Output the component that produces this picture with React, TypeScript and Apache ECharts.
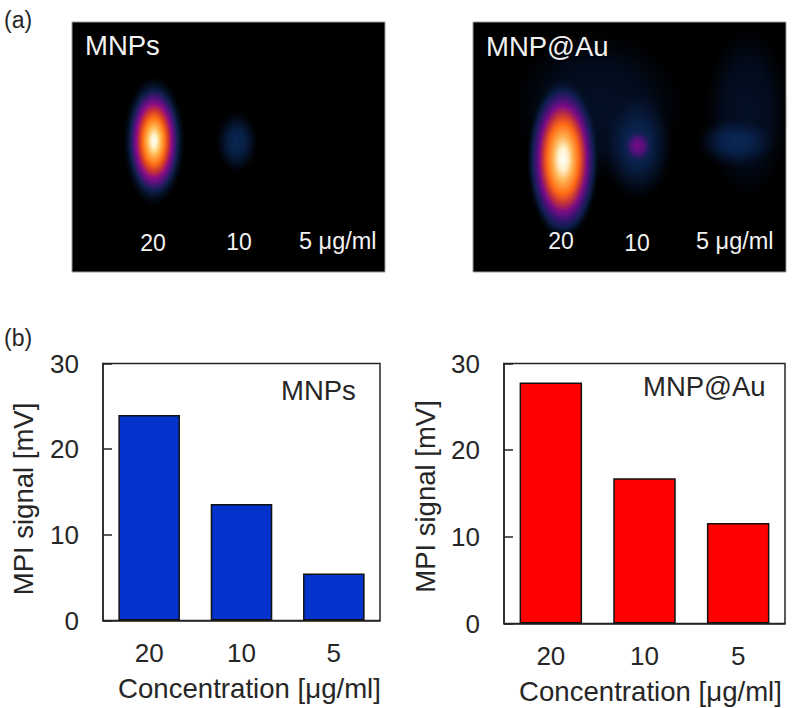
import React, { useEffect, useRef } from "react";
import * as echarts from "echarts";

const categories = ["20", "10", "5"];
const mnpValues = [24, 13.6, 5.5];
const auValues = [27.8, 16.75, 11.6];
const yName = "MPI signal [mV]";
const xName = "Concentration [μg/ml]";

const hotStops: [number, string][] = [
  [0, "#ffffff"], [0.1, "#fff0c4"], [0.22, "#ffb850"], [0.36, "#ff7214"], [0.47, "#d0382c"],
  [0.58, "#8c0c84"], [0.68, "#4a1478"], [0.78, "#10204e"], [0.9, "rgba(6,22,50,0.5)"], [1, "rgba(6,22,50,0)"],
];
const hotWideStops: [number, string][] = [
  [0, "#ffffff"], [0.14, "#fff0c8"], [0.28, "#ffb050"], [0.44, "#ff6a14"], [0.56, "#c0303c"],
  [0.66, "#7c0c84"], [0.76, "#3a1470"], [0.86, "#0e1e4c"], [0.94, "rgba(6,22,50,0.45)"], [1, "rgba(6,22,50,0)"],
];
const navyStops: [number, string][] = [
  [0, "rgba(10,42,88,0.95)"], [0.4, "rgba(10,38,84,0.8)"], [0.7, "rgba(8,30,70,0.45)"], [0.88, "rgba(6,24,60,0.15)"], [1, "rgba(6,24,60,0)"],
];
const mistStops: [number, string][] = [
  [0, "rgba(6,26,64,0.6)"], [0.55, "rgba(6,26,64,0.45)"], [0.82, "rgba(6,26,64,0.15)"], [1, "rgba(6,26,64,0)"],
];
const violetStops: [number, string][] = [[0, "#7a0a84"], [0.45, "rgba(90,14,128,0.85)"], [1, "rgba(20,30,90,0)"]];

// [x, y, width, height, stops] in image units
type Blob = [number, number, number, number, [number, string][]];
const mnpBlobs: Blob[] = [
  [82, 119, 61, 128, hotStops],
  [165, 120, 42, 62, navyStops],
];
const auBlobs: Blob[] = [
  [125, 85, 170, 150, mistStops],
  [165, 124, 70, 110, navyStops],
  [274, 90, 84, 170, mistStops],
  [263, 120, 80, 50, navyStops],
  [90, 137, 72, 160, hotWideStops],
  [165, 124, 30, 34, violetStops],
];

const imgW = 313;
const imgH = 250;

function blobSeries(blobs: Blob[], idx: number) {
  return {
    type: "scatter",
    xAxisIndex: idx,
    yAxisIndex: idx,
    symbol: "circle",
    clip: true,
    silent: true,
    symbolSize: (v: number[]) => [v[2], v[3]],
    itemStyle: { opacity: 1 },
    data: blobs.map((b) => ({
      value: [b[0], b[1], b[2], b[3]],
      itemStyle: {
        opacity: 1,
        color: new echarts.graphic.RadialGradient(0.5, 0.5, 0.5, b[4].map(([offset, color]) => ({ offset, color }))),
      },
    })),
  };
}

const FONT = "Liberation Sans";
const INK = "#262626";

function imageText(text: string, x: number, y: number, size: number, color = "#f2f2f2", align = "center") {
  return {
    type: "text",
    x,
    y,
    silent: true,
    z: 20,
    style: { text, fill: color, font: `${size}px "${FONT}"`, align, verticalAlign: "middle" },
  };
}

function barAxes(idx: number, padX: number, padY: number, gapX: number, gapY: number) {
  return {
    x: {
      type: "category",
      gridIndex: idx,
      data: categories,
      axisTick: { show: false },
      axisLine: { onZero: false, lineStyle: { color: INK, width: 1.5 } },
      axisLabel: { color: INK, fontSize: 26, fontFamily: FONT, margin: 19 },
      name: xName,
      nameLocation: "middle",
      nameGap: gapX,
      nameTextStyle: { color: INK, fontSize: 27.6, fontFamily: FONT, padding: [0, 0, 0, padX] },
    },
    y: {
      type: "value",
      gridIndex: idx,
      min: 0,
      max: 30,
      interval: 10,
      splitLine: { show: false },
      axisLine: { show: true, lineStyle: { color: INK, width: 1.5 } },
      axisTick: { show: true, inside: true, length: 9, lineStyle: { color: INK, width: 1.5 } },
      axisLabel: { color: INK, fontSize: 26, fontFamily: FONT, margin: 24 },
      name: yName,
      nameLocation: "middle",
      nameGap: gapY,
      nameTextStyle: { color: INK, fontSize: 27.5, fontFamily: FONT, padding: [0, padY, 0, 0] },
    },
  };
}

export default function App() {
  const ref = useRef<HTMLDivElement>(null);
  useEffect(() => {
    const chart = echarts.init(ref.current!, undefined, { renderer: "svg" });
    const a0 = barAxes(2, 16, 14, 54, 66);
    const a1 = barAxes(3, 12, 6, 54, 65);
    const hidden = (idx: number, max: number, inverse = false) => ({
      type: "value", gridIndex: idx, min: 0, max, inverse, show: false,
    });
    chart.setOption({
      animation: false,
      backgroundColor: "#ffffff",
      grid: [
        { left: 72, top: 22, width: imgW, height: imgH, show: true, backgroundColor: "#000000", borderColor: "#9a9a9a", borderWidth: 1 },
        { left: 473, top: 22, width: imgW, height: imgH, show: true, backgroundColor: "#000000", borderColor: "#9a9a9a", borderWidth: 1 },
        { left: 103, top: 363.5, width: 277, height: 257, show: true, borderColor: INK, borderWidth: 1.5 },
        { left: 504, top: 363.5, width: 281, height: 260, show: true, borderColor: INK, borderWidth: 1.5 },
      ],
      xAxis: [hidden(0, imgW), hidden(1, imgW), a0.x, a1.x],
      yAxis: [hidden(0, imgH, true), hidden(1, imgH, true), a0.y, a1.y],
      series: [
        blobSeries(mnpBlobs, 0),
        blobSeries(auBlobs, 1),
        {
          type: "bar", xAxisIndex: 2, yAxisIndex: 2, data: mnpValues, barCategoryGap: "33.3%",
          itemStyle: { color: "#0433cc", borderColor: "#111111", borderWidth: 1.5 },
        },
        {
          type: "bar", xAxisIndex: 3, yAxisIndex: 3, data: auValues, barCategoryGap: "33.3%",
          itemStyle: { color: "#ff0000", borderColor: "#111111", borderWidth: 1.5 },
        },
      ],
      graphic: [
        imageText("(a)", 4, 20, 23, INK, "left"),
        imageText("(b)", 4, 338, 23, INK, "left"),
        imageText("MNPs", 85, 45, 27.5, "#f2f2f2", "left"),
        imageText("20", 153, 243, 23),
        imageText("10", 239, 242, 23),
        imageText("5 μg/ml", 299, 241, 23.5, "#f2f2f2", "left"),
        imageText("MNP@Au", 486, 46, 27.5, "#f2f2f2", "left"),
        imageText("20", 561, 241, 23),
        imageText("10", 637, 243, 23),
        imageText("5 μg/ml", 696, 241, 23.5, "#f2f2f2", "left"),
        imageText("MNPs", 281, 390, 27.5, INK, "left"),
        imageText("MNP@Au", 643, 386, 27.5, INK, "left"),
      ],
    });
    return () => chart.dispose();
  }, []);
  return <div ref={ref} style={{ position: "fixed", left: 0, top: 0, width: 800, height: 708 }} />;
}
